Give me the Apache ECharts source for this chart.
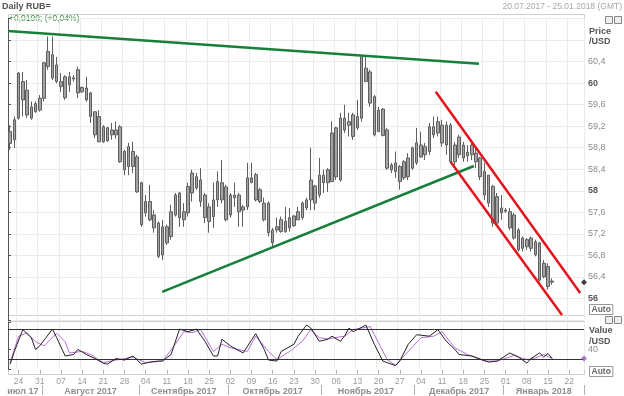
<!DOCTYPE html>
<html><head><meta charset="utf-8">
<script src="https://cdn.jsdelivr.net/npm/echarts@6/dist/echarts.min.js"></script>
<style>html,body{margin:0;padding:0;background:#fff;}#c{width:624px;height:396px;}</style>
</head><body><div id="c"></div>
<script>
const startDate = '2017-07-20';
const endDate = '2018-01-25';

const openP = [
58.88,58.95,59.35,60.03,59.87,59.35,59.47,59.50,59.72,60.31,
60.53,60.34,60.03,59.73,60.12,60.08,60.25,59.84,59.91,59.82,
59.47,59.38,58.91,59.17,59.04,59.13,59.19,58.39,58.82,58.45,
58.63,58.15,57.59,57.80,57.55,57.40,56.81,57.03,57.15,57.55,
57.96,57.46,57.59,57.96,58.26,58.20,57.92,57.43,57.52,57.83,
58.15,58.07,57.55,57.92,57.92,57.64,57.70,58.24,58.30,58.02,
57.77,57.77,57.03,57.27,57.46,57.24,57.31,57.35,57.46,57.50,
57.68,58.20,57.77,57.92,58.15,58.15,58.17,59.17,58.20,59.35,
59.22,59.41,59.17,59.35,60.28,60.21,59.75,59.10,59.52,59.13,
58.39,58.52,58.17,58.24,58.26,58.42,58.52,58.85,58.67,58.73,
59.19,59.075,59.22,58.85,59.22,58.54,59.00,58.61,58.72,58.67,
58.70,58.61,58.36,58.29,58.08,57.40,57.68,57.62,57.61,57.55,
57.27,56.93,57.09,56.93,57.05,57.03,56.40,56.59,56.32];
const closeP = [
59.10,59.32,60.19,59.69,59.41,59.56,59.62,59.72,60.38,60.59,
60.10,60.03,59.94,60.12,59.97,60.10,59.82,59.92,59.69,59.38,
59.04,58.91,59.19,58.93,59.13,59.04,58.54,58.73,58.45,58.73,
57.98,57.37,57.80,57.46,57.31,56.78,57.33,57.33,57.61,57.92,
57.50,57.61,58.08,58.33,58.05,57.80,57.50,57.70,57.83,58.17,
57.83,57.46,57.92,57.87,57.61,57.70,58.24,58.15,57.83,57.80,
57.46,57.22,57.27,57.33,57.24,57.43,57.50,57.53,57.61,57.77,
57.83,57.83,58.09,58.29,58.29,58.39,59.075,58.26,59.35,59.13,
59.285,59.01,59.38,60.49,60.03,59.63,59.04,59.50,59.03,58.42,
58.48,58.36,58.45,58.54,58.61,58.80,58.89,58.63,58.82,59.19,
59.04,59.285,58.89,59.22,58.54,58.85,58.67,58.85,58.65,58.85,
58.54,58.26,57.92,57.77,57.40,57.89,57.59,57.64,57.31,57.12,
56.90,57.12,56.96,57.12,56.81,56.34,56.65,56.22,56.30];
const highP = [
59.22,59.38,60.21,60.21,60.06,59.66,59.66,59.78,60.40,60.87,
60.87,60.49,60.19,60.15,60.21,60.15,60.31,59.94,60.12,59.84,
59.47,59.50,59.22,59.19,59.26,59.29,59.22,58.76,58.89,58.91,
58.67,58.17,57.92,58.11,57.64,57.43,57.46,57.37,57.74,57.96,
57.98,57.77,58.15,58.39,58.33,58.42,57.96,57.77,58.15,58.36,
58.57,58.11,57.96,58.15,57.96,57.74,58.52,58.52,58.33,58.05,
57.87,57.80,57.31,57.50,57.52,57.70,57.68,57.55,57.70,57.80,
57.87,58.80,58.11,58.61,58.39,58.42,59.29,59.19,59.45,59.60,
59.45,59.45,59.69,60.49,60.49,60.25,59.78,59.56,59.54,59.17,
58.52,58.73,58.48,58.57,58.70,58.82,59.17,59.10,58.89,59.26,
59.38,59.38,59.32,59.29,59.26,58.91,59.04,58.91,58.85,58.89,
58.80,58.63,58.52,58.29,58.11,57.96,57.92,57.68,57.68,57.59,
57.31,57.15,57.12,57.15,57.09,57.05,56.71,56.65,56.37];
const lowP = [
58.76,58.79,59.32,59.38,59.35,59.32,59.45,59.47,59.66,60.25,
60.06,60.00,59.84,59.69,59.84,60.03,59.72,59.82,59.66,59.26,
58.98,58.91,58.89,58.91,58.95,58.97,58.52,58.29,58.29,58.33,
57.96,57.33,57.52,57.43,57.22,56.75,56.71,56.99,57.09,57.52,
57.33,57.33,57.52,57.80,58.02,57.70,57.40,57.22,57.31,57.70,
57.77,57.43,57.50,57.70,57.33,57.33,57.64,58.15,57.80,57.77,
57.43,57.15,56.96,57.22,57.22,57.22,57.24,57.33,57.46,57.46,
57.64,57.64,57.64,57.87,57.96,57.98,58.17,58.20,58.17,59.075,
59.01,58.945,59.13,59.285,60.03,59.56,59.01,59.10,59.01,58.39,
58.33,58.24,58.02,58.20,58.20,58.39,58.48,58.61,58.57,58.67,
58.98,59.01,58.82,58.67,58.52,58.48,58.61,58.54,58.54,58.57,
58.42,58.20,57.83,57.70,57.33,57.37,57.46,57.59,57.27,57.09,
56.87,56.87,56.90,56.87,56.78,56.31,56.37,56.16,56.25];

// oscillator (%K black, %D purple): [trading-day index, value]
const kIdx = [0,1,3,5,6,7,10,11,13,15,16,18,20,22,23,25,27,29,31,33,35,36,38,40,42,44,46,48,49,50,52,55,58,60,61,63,64,67,68,70,71,73,75,76,78,79,80,81,84,86,88,91,92,94,96,99,101,103,105,106,109,113,115,118,120,122,123,125,126,127,128];
const kVal = [11,36,79,63,40,47,80,63,27,30,40,30,22,13,11,22,19,27,11,15,17,17,30,80,75,80,56,27,27,60,47,33,71,40,19,17,36,50,66,88,82,56,60,66,56,67,82,75,88,50,17,8,17,50,69,66,79,56,40,30,27,15,17,33,25,13,22,33,25,32,22];
const dIdx = [0,2,4,6,8,11,13,14,17,19,22,25,29,32,36,39,41,43,45,48,50,52,56,58,61,63,66,69,71,73,75,79,81,85,87,89,91,94,97,100,102,105,108,112,115,119,122,124,126,128];
const dVal = [14,66,73,55,47,72,55,33,36,30,14,19,25,14,17,50,75,73,79,36,50,43,36,66,36,20,36,56,79,63,61,66,79,85,53,20,9,36,63,66,75,43,30,17,17,28,20,23,30,22];
const oscLevels = [80, 20];

// trend lines: [trading-day position, price]
const greenTop = [[0, 60.97], [111.2, 60.36]];
const greenBottom = [[36.4, 56.12], [110.0, 58.46]];
const redUpper = [[101.0, 59.84], [135.1, 56.10]];
const redLower = [[104.5, 58.54], [130.8, 55.69]];

const monthNames = {'2017-07':'июл 17','2017-08':'Август 2017','2017-09':'Сентябрь 2017','2017-10':'Октябрь 2017','2017-11':'Ноябрь 2017','2017-12':'Декабрь 2017','2018-01':'Январь 2018'};

// weekday categories
const dates = [];
(function(){
  let d = new Date(startDate + 'T00:00:00Z');
  const e = new Date(endDate + 'T00:00:00Z');
  while (d <= e) { const w = d.getUTCDay(); if (w > 0 && w < 6) dates.push(d.toISOString().slice(0,10)); d = new Date(d.getTime() + 86400000); }
})();
const isMonday = (i, v) => new Date((v || dates[i]) + 'T00:00:00Z').getUTCDay() === 1;
const mFirst = {}, mLast = {};
dates.forEach((d, i) => { const m = d.slice(0,7); if (!(m in mFirst)) mFirst[m] = i; mLast[m] = i; });
const mKeys = Object.keys(mFirst);
const mCenter = new Set(mKeys.map(m => Math.floor((mFirst[m] + mLast[m]) / 2)));
const mStart = new Set(mKeys.slice(1).map(m => mFirst[m]));

const FONT = 'Liberation Sans';
const gridCol = '#ebebeb';
const chart = echarts.init(document.getElementById('c'));
const N = dates.length;

chart.setOption({
  animation: false,
  backgroundColor: '#ffffff',
  textStyle: { fontFamily: FONT },
  grid: [
    { left: 8, right: 40, top: 18.7, height: 301.1 },
    { left: 8, right: 40, top: 322, height: 48.7 }
  ],
  xAxis: [
    { type: 'category', gridIndex: 0, data: dates, boundaryGap: true,
      axisLine: { show: false }, axisTick: { show: false }, axisLabel: { show: false },
      splitLine: { show: true, interval: isMonday, lineStyle: { color: gridCol } } },
    { type: 'value', gridIndex: 0, min: 0, max: N, show: false },
    { type: 'category', gridIndex: 1, data: dates, boundaryGap: true, position: 'bottom', offset: 4.3,
      axisLine: { show: false },
      axisTick: { show: true, alignWithLabel: true, interval: isMonday, length: 4, lineStyle: { color: '#b0b0b0' } },
      axisLabel: { interval: isMonday, formatter: v => v.slice(8), fontSize: 8.5, color: '#9a9a9a', margin: 3, fontFamily: FONT },
      splitLine: { show: true, interval: isMonday, lineStyle: { color: gridCol } } },
    { type: 'category', gridIndex: 1, data: dates, boundaryGap: true, position: 'bottom', offset: 15.3,
      axisLine: { show: false },
      axisTick: { show: true, interval: (i) => mStart.has(i), length: 10, lineStyle: { color: '#b0b0b0' } },
      axisLabel: { interval: (i) => mCenter.has(i), formatter: v => monthNames[v.slice(0,7)], fontSize: 9, color: '#8f8f8f', margin: 2, fontFamily: FONT, fontWeight: 'bold' },
      splitLine: { show: false } },
    { type: 'value', gridIndex: 1, min: 0, max: N, show: false }
  ],
  yAxis: [
    { type: 'value', gridIndex: 0, position: 'right', min: 55.6, max: 61.2, interval: 0.4,
      axisLine: { show: true, lineStyle: { color: '#555' } },
      axisTick: { show: true, length: 3, lineStyle: { color: '#555' } },
      axisLabel: { margin: 4, fontSize: 9, color: '#8a8a8a', fontFamily: FONT,
        formatter: v => { const r = Math.round(v * 10) / 10; if (r > 60.5 || r < 55.9) return ''; const s = String(r).replace('.', ','); return Number.isInteger(r) ? '{b|' + s + '}' : s; },
        rich: { b: { fontWeight: 'bold', color: '#555', fontSize: 9, fontFamily: FONT } } },
      splitLine: { show: true, lineStyle: { color: gridCol } } },
    { type: 'value', gridIndex: 1, position: 'right', min: 0, max: 94, interval: 40,
      axisLine: { show: true, lineStyle: { color: '#555' } },
      axisTick: { show: true, length: 3, lineStyle: { color: '#555' } },
      axisLabel: { margin: 4, fontSize: 9, color: '#8a8a8a', fontFamily: FONT, formatter: v => (v === 40 ? '40' : '') },
      splitLine: { show: false } }
  ],
  series: [
    { type: 'candlestick', xAxisIndex: 0, yAxisIndex: 0, barWidth: 3,
      data: openP.map((o, i) => [o, closeP[i], lowP[i], highP[i]]),
      itemStyle: { color: '#a3a3a3', color0: '#a3a3a3', borderColor: '#5e5e5e', borderColor0: '#5e5e5e', borderWidth: 1 } },
    { type: 'line', xAxisIndex: 1, yAxisIndex: 0, data: greenTop, symbol: 'none', lineStyle: { color: '#16803a', width: 2.5 }, z: 5 },
    { type: 'line', xAxisIndex: 1, yAxisIndex: 0, data: greenBottom, symbol: 'none', lineStyle: { color: '#16803a', width: 2.5 }, z: 5 },
    { type: 'line', xAxisIndex: 1, yAxisIndex: 0, data: redUpper, symbol: 'none', lineStyle: { color: '#e3141b', width: 2.5 }, z: 5 },
    { type: 'line', xAxisIndex: 1, yAxisIndex: 0, data: redLower, symbol: 'none', lineStyle: { color: '#e3141b', width: 2.5 }, z: 5 },
    { type: 'scatter', xAxisIndex: 1, yAxisIndex: 0, data: [[N, closeP[closeP.length - 1]]], symbol: 'diamond', symbolSize: 6, itemStyle: { color: '#111' }, clip: false, z: 10 },
    { type: 'line', xAxisIndex: 2, yAxisIndex: 1, data: dIdx.map((x, j) => [x, dVal[j]]), symbol: 'none', lineStyle: { color: '#b56fd6', width: 1 }, z: 4 },
    { type: 'line', xAxisIndex: 2, yAxisIndex: 1, data: kIdx.map((x, j) => [x, kVal[j]]), symbol: 'none', lineStyle: { color: '#222', width: 1 }, z: 5,
      markLine: { silent: true, symbol: 'none', label: { show: false }, lineStyle: { color: '#333', width: 1, type: 'solid' },
        data: oscLevels.map(v => ({ yAxis: v })) } },
    { type: 'scatter', xAxisIndex: 4, yAxisIndex: 1, data: [[N, dVal[dVal.length - 1]]], symbol: 'diamond', symbolSize: 6, itemStyle: { color: '#9b4fd0' }, clip: false, z: 10 }
  ],
  graphic: [
    { type: 'rect', silent: true, shape: { x: 8.5, y: 14.5, width: 576, height: 301 }, style: { fill: 'none', stroke: '#cfcfcf', lineWidth: 1 } },
    { type: 'rect', silent: true, shape: { x: 8.5, y: 321.5, width: 576, height: 53 }, style: { fill: 'none', stroke: '#cfcfcf', lineWidth: 1 } },
    { type: 'text', left: 2, top: 2, style: { text: 'Daily RUB=', font: 'bold 9px "Liberation Sans"', fill: '#555' } },
    { type: 'text', left: 9, top: 14, style: { text: '+0,0199; (+0,04%)', font: '8.5px "Liberation Sans"', fill: '#3f8f3f' } },
    { type: 'text', right: 2, top: 2, style: { text: '20.07.2017 - 25.01.2018 (GMT)', font: '8.5px "Liberation Sans"', fill: '#a8a8a8' } },
    { type: 'text', left: 589, top: 27, style: { text: 'Price', font: 'bold 9px "Liberation Sans"', fill: '#555' } },
    { type: 'text', left: 589, top: 37, style: { text: '/USD', font: 'bold 9px "Liberation Sans"', fill: '#555' } },
    { type: 'text', left: 589, top: 304, style: { text: 'Auto', font: 'bold 8.5px "Liberation Sans"', fill: '#666', borderColor: '#999', borderWidth: 1, padding: [1, 2, 0, 2] } },
    { type: 'text', left: 589, top: 326, style: { text: 'Value', font: 'bold 9px "Liberation Sans"', fill: '#555' } },
    { type: 'text', left: 589, top: 337, style: { text: '/USD', font: 'bold 9px "Liberation Sans"', fill: '#555' } },
    { type: 'text', left: 589, top: 366, style: { text: 'Auto', font: 'bold 8.5px "Liberation Sans"', fill: '#666', borderColor: '#999', borderWidth: 1, padding: [1, 2, 0, 2] } },
    { type: 'rect', silent: true, shape: { x: 605.5, y: 16.5, width: 7, height: 7 }, style: { fill: '#eee', stroke: '#888' } },
    { type: 'rect', silent: true, shape: { x: 614.5, y: 16.5, width: 7, height: 7 }, style: { fill: '#eee', stroke: '#888' } },
    { type: 'rect', silent: true, shape: { x: 605.5, y: 316.5, width: 7, height: 7 }, style: { fill: '#eee', stroke: '#888' } },
    { type: 'rect', silent: true, shape: { x: 614.5, y: 316.5, width: 7, height: 7 }, style: { fill: '#eee', stroke: '#888' } }
  ]
});
</script>
</body></html>
